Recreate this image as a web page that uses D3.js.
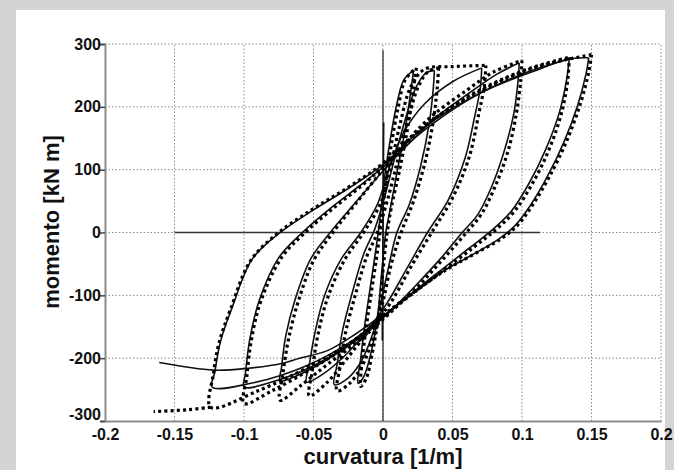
<!DOCTYPE html>
<html><head><meta charset="utf-8">
<script src="https://cdn.jsdelivr.net/npm/d3@7"></script>
<style>
html,body{margin:0;padding:0;background:#d4d4d4;}
svg{display:block;}
text{font-family:"Liberation Sans",Arial,sans-serif;fill:#111;}
</style></head>
<body>
<svg id="chart" width="674" height="470"></svg>
<script>
// ---- axis ticks ----
const xTicks = [-0.2, -0.15, -0.1, -0.05, 0, 0.05, 0.1, 0.15, 0.2];
const xTickLabels = ["-0.2", "-0.15", "-0.1", "-0.05", "0", "0.05", "0.1", "0.15", "0.2"];
const yTicks = [-300, -200, -100, 0, 100, 200, 300];
const yTickLabels = ["-300", "-200", "-100", "0", "100", "200", "300"];
const xTitle = "curvatura [1/m]";
const yTitle = "momento [kN m]";

// ---- reference lines ----
const zeroLineX = [[-0.15, 0], [0.113, 0]];
const zeroLineY = [[0, 290], [0, -300]];

// ---- numerical (dotted) loops: [curvature, moment] ----
const numLoop1 = [[0.024,262],[0.022,230],[0.018,170],[0.012,100],[0.006,40],[0.003,0],[0.0,-60],[-0.003,-130],[-0.008,-195],[-0.012,-232],[-0.016,-245],
  [-0.015,-205],[-0.012,-150],[-0.008,-90],[-0.004,-30],[-0.001,20],[0.002,80],[0.006,140],[0.011,200],[0.016,243],[0.024,262]];
const numLoop2 = [[0.04,262],[0.039,230],[0.036,175],[0.03,110],[0.022,50],[0.013,0],[0.006,-50],[0.0,-110],[-0.006,-160],[-0.015,-212],[-0.024,-240],[-0.033,-252],
  [-0.031,-215],[-0.027,-160],[-0.02,-100],[-0.012,-40],[-0.004,0],[0.003,50],[0.01,110],[0.018,180],[0.026,235],[0.033,257],[0.04,262]];
const numLoop3 = [[0.074,266],[0.073,235],[0.069,190],[0.062,120],[0.05,55],[0.035,0],[0.02,-55],[0.006,-110],[-0.008,-150],[-0.025,-198],[-0.04,-238],[-0.053,-260],
  [-0.051,-222],[-0.047,-165],[-0.04,-105],[-0.028,-45],[-0.014,0],[-0.002,45],[0.005,100],[0.012,170],[0.02,232],[0.03,260],[0.05,264],[0.074,266]];
const numLoop4 = [[0.1,274],[0.099,240],[0.096,190],[0.09,130],[0.081,75],[0.071,30],[0.06,0],[0.045,-38],[0.025,-86],[0.005,-128],[-0.015,-168],[-0.04,-210],[-0.06,-245],[-0.074,-267],
  [-0.072,-225],[-0.068,-170],[-0.061,-110],[-0.05,-45],[-0.036,0],[-0.02,45],[0.0,100],[0.015,140],[0.035,185],[0.06,226],[0.08,256],[0.1,274]];
const numLoop5 = [[0.134,279],[0.133,245],[0.129,195],[0.12,135],[0.108,80],[0.095,35],[0.082,6],[0.065,-24],[0.04,-66],[0.015,-108],[0.0,-135],[-0.02,-172],[-0.05,-215],[-0.08,-252],[-0.1,-272],
  [-0.098,-230],[-0.095,-175],[-0.088,-110],[-0.073,-40],[-0.056,0],[-0.035,40],[-0.015,75],[0.0,105],[0.025,160],[0.06,215],[0.1,257],[0.134,279]];
const numLoop6 = [[0.15,283],[0.148,255],[0.142,205],[0.132,145],[0.12,90],[0.108,45],[0.097,12],[0.085,-10],[0.065,-35],[0.045,-60],[0.021,-97],[0.0,-132],[-0.02,-170],[-0.05,-210],[-0.09,-252],[-0.124,-278],
  [-0.122,-225],[-0.118,-176],[-0.11,-124],[-0.095,-44],[-0.075,0],[-0.05,38],[-0.025,72],[0.0,110],[0.03,170],[0.07,225],[0.11,263],[0.15,283]];
const numTail = [[-0.124,-278],[-0.14,-282],[-0.165,-285]];

// ---- experimental (solid) loops ----
const expElastic = [[-0.0005,-172],[0.0005,175]];
const expLoop1 = [[0.022,258],[0.02,225],[0.016,165],[0.01,95],[0.005,35],[0.002,0],[-0.001,-65],[-0.004,-135],[-0.009,-195],[-0.014,-230],[-0.018,-240],
  [-0.016,-200],[-0.013,-145],[-0.009,-85],[-0.005,-25],[-0.002,25],[0.001,85],[0.005,145],[0.01,205],[0.015,243],[0.022,258]];
const expLoop2 = [[0.037,258],[0.036,225],[0.033,170],[0.027,105],[0.019,45],[0.01,0],[0.004,-55],[-0.002,-115],[-0.008,-165],[-0.017,-210],[-0.027,-235],[-0.035,-242],
  [-0.033,-210],[-0.029,-155],[-0.022,-95],[-0.014,-35],[-0.006,5],[0.001,55],[0.008,115],[0.016,180],[0.024,232],[0.031,254],[0.037,258]];
const expLoop3 = [[0.071,262],[0.07,230],[0.066,185],[0.059,118],[0.047,52],[0.032,0],[0.017,-58],[0.003,-112],[-0.01,-152],[-0.027,-195],[-0.043,-225],[-0.055,-238],
  [-0.053,-210],[-0.049,-160],[-0.042,-100],[-0.03,-42],[-0.016,0],[-0.004,45],[0.004,100],[0.015,160],[0.03,205],[0.05,240],[0.071,262]];
const expLoop4 = [[0.098,270],[0.097,238],[0.094,188],[0.087,128],[0.078,72],[0.068,28],[0.057,0],[0.042,-40],[0.022,-88],[0.003,-130],[-0.017,-168],[-0.042,-205],[-0.062,-228],[-0.074,-236],
  [-0.073,-215],[-0.07,-165],[-0.063,-105],[-0.052,-42],[-0.038,0],[-0.022,42],[0.0,98],[0.018,140],[0.038,183],[0.062,222],[0.082,252],[0.098,270]];
const expLoop5 = [[0.134,276],[0.132,242],[0.127,192],[0.117,132],[0.105,78],[0.092,33],[0.079,5],[0.062,-25],[0.037,-68],[0.013,-111],[0.0,-135],[-0.022,-175],[-0.05,-212],[-0.08,-238],[-0.1,-246],
  [-0.099,-225],[-0.096,-172],[-0.089,-108],[-0.075,-40],[-0.058,0],[-0.037,40],[-0.017,74],[0.0,104],[0.027,158],[0.062,212],[0.1,252],[0.134,276]];
const expLoop6 = [[0.148,278],[0.146,252],[0.14,202],[0.13,143],[0.118,88],[0.106,43],[0.095,11],[0.083,-11],[0.063,-37],[0.043,-62],[0.02,-99],[0.0,-133],[-0.022,-172],[-0.055,-212],[-0.095,-240],[-0.123,-246],
  [-0.121,-222],[-0.117,-174],[-0.109,-122],[-0.094,-42],[-0.074,0],[-0.05,36],[-0.025,70],[0.0,108],[0.03,168],[0.07,222],[0.11,258],[0.134,276],[0.148,278]];
const expTail = [[0.0,-130],[-0.02,-162],[-0.04,-188],[-0.06,-200],[-0.072,-208],[-0.097,-216],[-0.122,-219],[-0.161,-207]];

const numLoops = [numLoop1, numLoop2, numLoop3, numLoop4, numLoop5, numLoop6, numTail];
const expLoops = [expElastic, expLoop1, expLoop2, expLoop3, expLoop4, expLoop5, expLoop6, expTail];

// ---- drawing ----
const svg = d3.select("#chart");
svg.append("rect").attr("x",16).attr("y",10).attr("width",649).attr("height",470).attr("fill","#ffffff");

const x = d3.scaleLinear().domain([-0.2, 0.2]).range([105, 661]);
const y = d3.scaleLinear().domain([-300, 300]).range([421, 44]);

// grid
const grid = svg.append("g");
grid.selectAll("line.gx").data(xTicks.slice(1)).join("line")
  .attr("x1", d => x(d)).attr("x2", d => x(d)).attr("y1", y(-300)).attr("y2", y(300))
  .attr("stroke", "#8a8a8a").attr("stroke-width", 1).attr("stroke-dasharray", "1.5,2");
grid.selectAll("line.gy").data(yTicks.slice(1)).join("line")
  .attr("y1", d => y(d)).attr("y2", d => y(d)).attr("x1", x(-0.2)).attr("x2", x(0.2))
  .attr("stroke", "#8a8a8a").attr("stroke-width", 1).attr("stroke-dasharray", "1.5,2");

// axes
const xAxis = d3.axisBottom(x).tickValues(xTicks).tickSize(0).tickFormat((d,i) => xTickLabels[i]);
const yAxis = d3.axisLeft(y).tickValues(yTicks).tickSize(5).tickFormat((d,i) => yTickLabels[i]);
const gx = svg.append("g").attr("transform", `translate(0,${y(-300)})`).call(xAxis);
const gy = svg.append("g").attr("transform", `translate(${x(-0.2)},0)`).call(yAxis);
gx.select(".domain").attr("stroke","#8c8c8c").attr("stroke-width",2);
gy.select(".domain").attr("stroke","#8c8c8c").attr("stroke-width",2);
gy.selectAll(".tick line").attr("stroke","#444").attr("stroke-width",1.5);
gx.selectAll(".tick text").attr("dy", "0").attr("y", 19)
  .style("font-size","16px").style("font-weight","bold").style("font-family",'"Liberation Sans",Arial,sans-serif').attr("fill","#111");
gy.selectAll(".tick text").attr("x", -4).attr("y", d => d === -300 ? -7 : 0)
  .style("font-size","16px").style("font-weight","bold").style("font-family",'"Liberation Sans",Arial,sans-serif').attr("fill","#111");

// reference lines
const lineGen = d3.line().x(d => x(d[0])).y(d => y(d[1]));
svg.append("path").attr("d", lineGen(zeroLineX)).attr("stroke","#333").attr("stroke-width",1.3).attr("fill","none");
svg.append("path").attr("d", lineGen(zeroLineY)).attr("stroke","#333").attr("stroke-width",1.3).attr("fill","none");

// curves
const curveGen = d3.line().x(d => x(d[0])).y(d => y(d[1])).curve(d3.curveCatmullRom.alpha(0.5));
svg.append("g").selectAll("path").data(expLoops).join("path")
  .attr("d", curveGen).attr("fill","none").attr("stroke","#111").attr("stroke-width",1.6);
svg.append("g").selectAll("path").data(numLoops).join("path")
  .attr("d", curveGen).attr("fill","none").attr("stroke","#000").attr("stroke-width",3.2)
  .attr("stroke-dasharray","3,3.2");

// titles
svg.append("text").attr("x", 383).attr("y", 464).attr("text-anchor","middle")
  .style("font-size","22px").style("font-weight","bold").text(xTitle);
svg.append("text").attr("transform","translate(59,222) rotate(-90)").attr("text-anchor","middle")
  .style("font-size","22px").style("font-weight","bold").text(yTitle);
</script>
</body></html>
